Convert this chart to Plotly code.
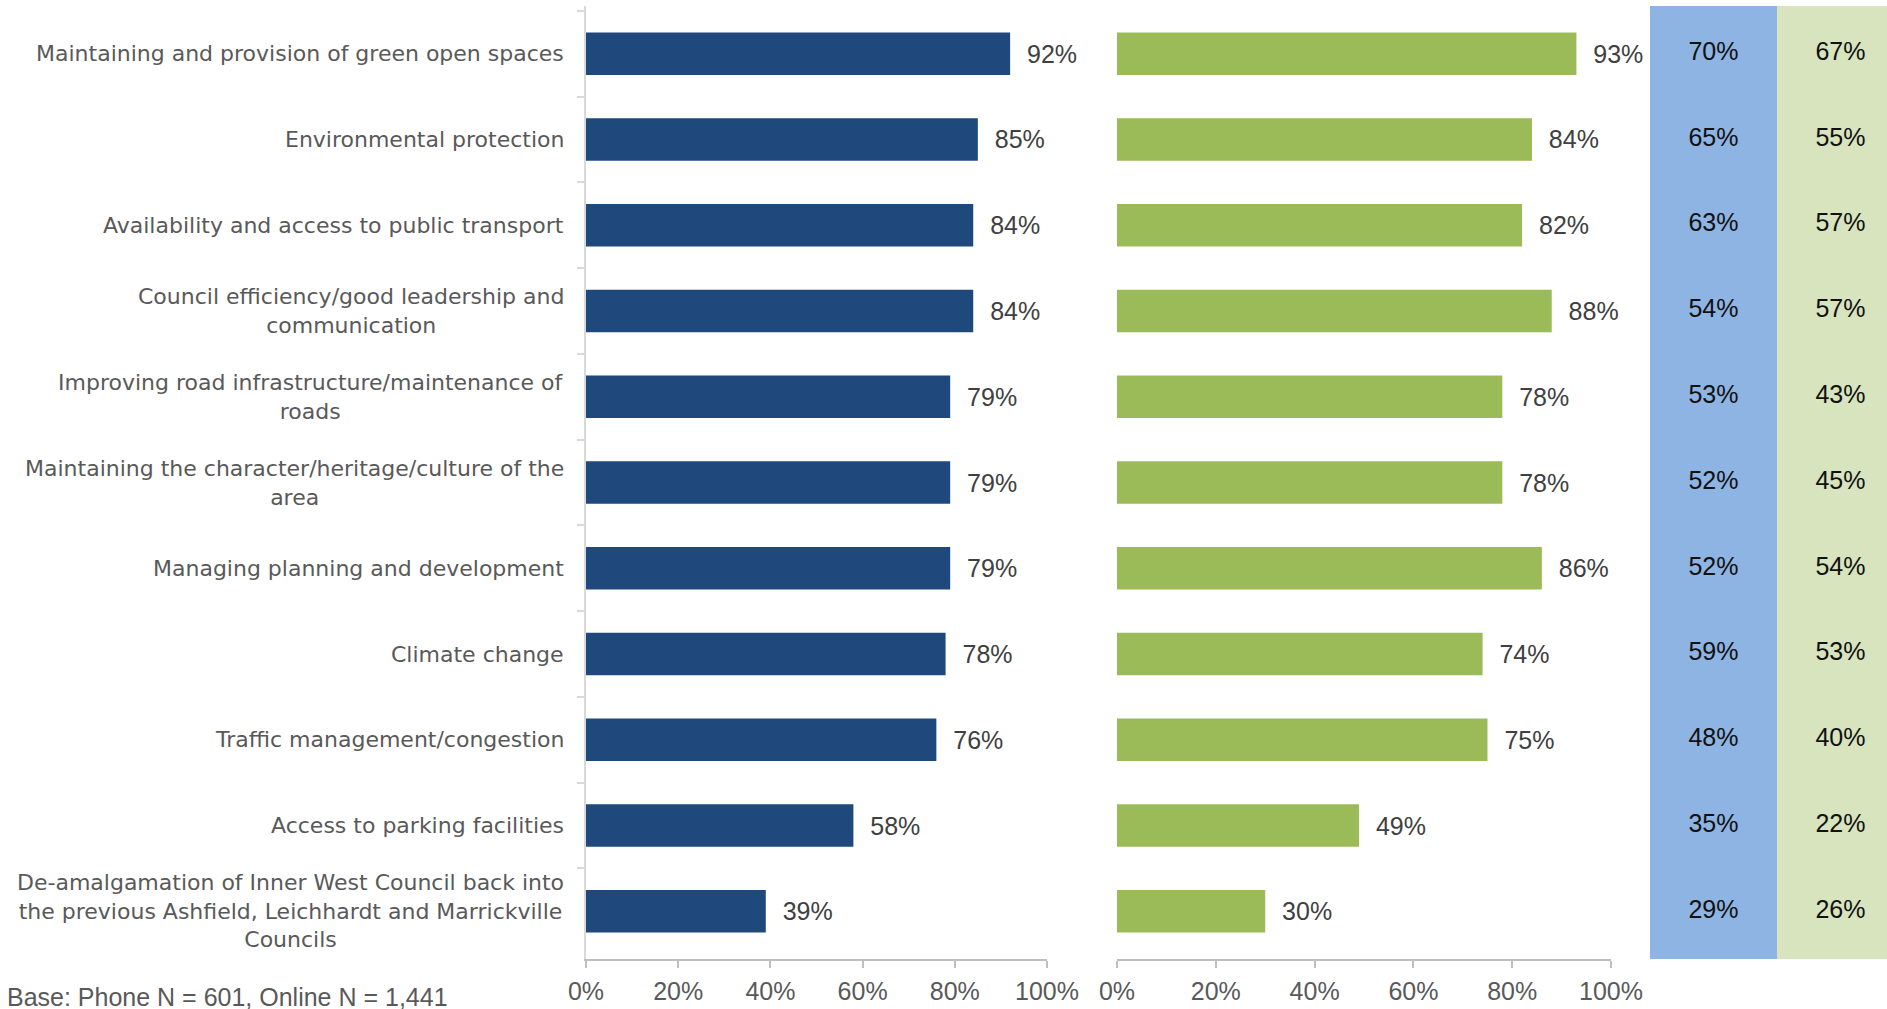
import plotly.graph_objects as go

W, H = 1887, 1009

categories = [
    "Maintaining and provision of green open spaces",
    "Environmental protection",
    "Availability and access to public transport",
    "Council efficiency/good leadership and<br>communication",
    "Improving road infrastructure/maintenance of<br>roads",
    "Maintaining the character/heritage/culture of the<br>area",
    "Managing planning and development",
    "Climate change",
    "Traffic management/congestion",
    "Access to parking facilities",
    "De-amalgamation of Inner West Council back into<br>the previous Ashfield, Leichhardt and Marrickville<br>Councils",
]
phone = [92, 85, 84, 84, 79, 79, 79, 78, 76, 58, 39]
online = [93, 84, 82, 88, 78, 78, 86, 74, 75, 49, 30]
phone_priority = [70, 65, 63, 54, 53, 52, 52, 59, 48, 35, 29]
online_priority = [67, 55, 57, 57, 43, 45, 54, 53, 40, 22, 26]
tick_vals = [0, 20, 40, 60, 80, 100]
tick_text = ["0%", "20%", "40%", "60%", "80%", "100%"]
base_note = "Base: Phone N = 601, Online N = 1,441"

NUMFONT = "Liberation Sans, Arial, sans-serif"
LABEL_FONT = "DejaVu Sans, sans-serif"
DARK_BLUE = "#1F497D"
GREEN = "#9BBB59"
COL_BLUE = "#8EB4E3"
COL_GREEN = "#D7E4BD"
GREY_TXT = "#595959"
NB = "\u00a0\u00a0"

def px_x(p):
    return p / W

def px_y(p):
    return 1 - p / H

fig = go.Figure()

fig.add_trace(go.Bar(
    x=phone, y=categories, orientation="h", xaxis="x", yaxis="y",
    marker=dict(color=DARK_BLUE, line=dict(width=0)), width=0.495,
    text=[f"{NB}{v}%" for v in phone], textposition="outside",
    textfont=dict(family=NUMFONT, size=25, color="#404040"),
    cliponaxis=False, constraintext="none", showlegend=False,
))
fig.add_trace(go.Bar(
    x=online, y=categories, orientation="h", xaxis="x2", yaxis="y",
    marker=dict(color=GREEN, line=dict(width=0)), width=0.495,
    text=[f"{NB}{v}%" for v in online], textposition="outside",
    textfont=dict(family=NUMFONT, size=25, color="#404040"),
    cliponaxis=False, constraintext="none", showlegend=False,
))
fig.add_trace(go.Scatter(
    x=[0.5] * len(categories), y=categories, mode="text", xaxis="x3", yaxis="y",
    text=[f"{v}%" for v in phone_priority],
    textfont=dict(family=NUMFONT, size=25, color="#111111"),
    showlegend=False, hoverinfo="skip",
))
fig.add_trace(go.Scatter(
    x=[1.5] * len(categories), y=categories, mode="text", xaxis="x3", yaxis="y",
    text=[f"{v}%" for v in online_priority],
    textfont=dict(family=NUMFONT, size=25, color="#111111"),
    showlegend=False, hoverinfo="skip",
))

# column backgrounds
fig.add_shape(type="rect", xref="x3", yref="paper", x0=0, x1=1,
              y0=px_y(959), y1=px_y(6), fillcolor=COL_BLUE, line=dict(width=0), layer="below")
fig.add_shape(type="rect", xref="x3", yref="paper", x0=1, x1=2,
              y0=px_y(959), y1=px_y(6), fillcolor=COL_GREEN, line=dict(width=0), layer="below")

# category labels (centered multi-line, right-anchored)
for c in categories:
    fig.add_annotation(
        x=px_x(566), xref="paper", xanchor="right", y=c, yref="y", yanchor="middle",
        text=c, showarrow=False, align="center",
        font=dict(family=LABEL_FONT, size=22, color=GREY_TXT),
    )

fig.add_annotation(
    x=px_x(5), xref="paper", xanchor="left", y=px_y(997), yref="paper", yanchor="middle",
    text=base_note, showarrow=False,
    font=dict(family=NUMFONT, size=25, color=GREY_TXT),
)

xcommon = dict(
    range=[0, 100], tickvals=tick_vals, ticktext=tick_text, ticks="outside", ticklen=7,
    tickcolor="#BFBFBF", tickwidth=2, showline=True, linecolor="#BFBFBF", linewidth=2,
    showgrid=False, zeroline=False, fixedrange=True,
    tickfont=dict(family=NUMFONT, size=25, color=GREY_TXT), ticklabelstandoff=2,
)

fig.update_layout(
    width=W, height=H,
    margin=dict(l=0, r=0, t=0, b=0, autoexpand=False),
    paper_bgcolor="white", plot_bgcolor="rgba(0,0,0,0)",
    barmode="overlay",
    xaxis=dict(domain=[px_x(586), px_x(1047)], anchor="y", **xcommon),
    xaxis2=dict(domain=[px_x(1117), px_x(1611)], anchor="y", **xcommon),
    xaxis3=dict(domain=[px_x(1650), 1.0], anchor="y", range=[0, 237 / 127], visible=False),
    yaxis=dict(
        domain=[px_y(959), px_y(6)], type="category", categoryorder="array",
        categoryarray=categories, autorange="reversed", showticklabels=False,
        ticks="outside", tickson="boundaries", ticklen=7, tickcolor="#D9D9D9", tickwidth=2,
        showline=True, linecolor="#D9D9D9", linewidth=2, showgrid=False, zeroline=False,
        anchor="x",
    ),
)

fig.write_html(
    "out.html",
    config={"displayModeBar": False},
    post_script="document.body.style.margin='0';document.body.style.overflow='hidden';",
)
